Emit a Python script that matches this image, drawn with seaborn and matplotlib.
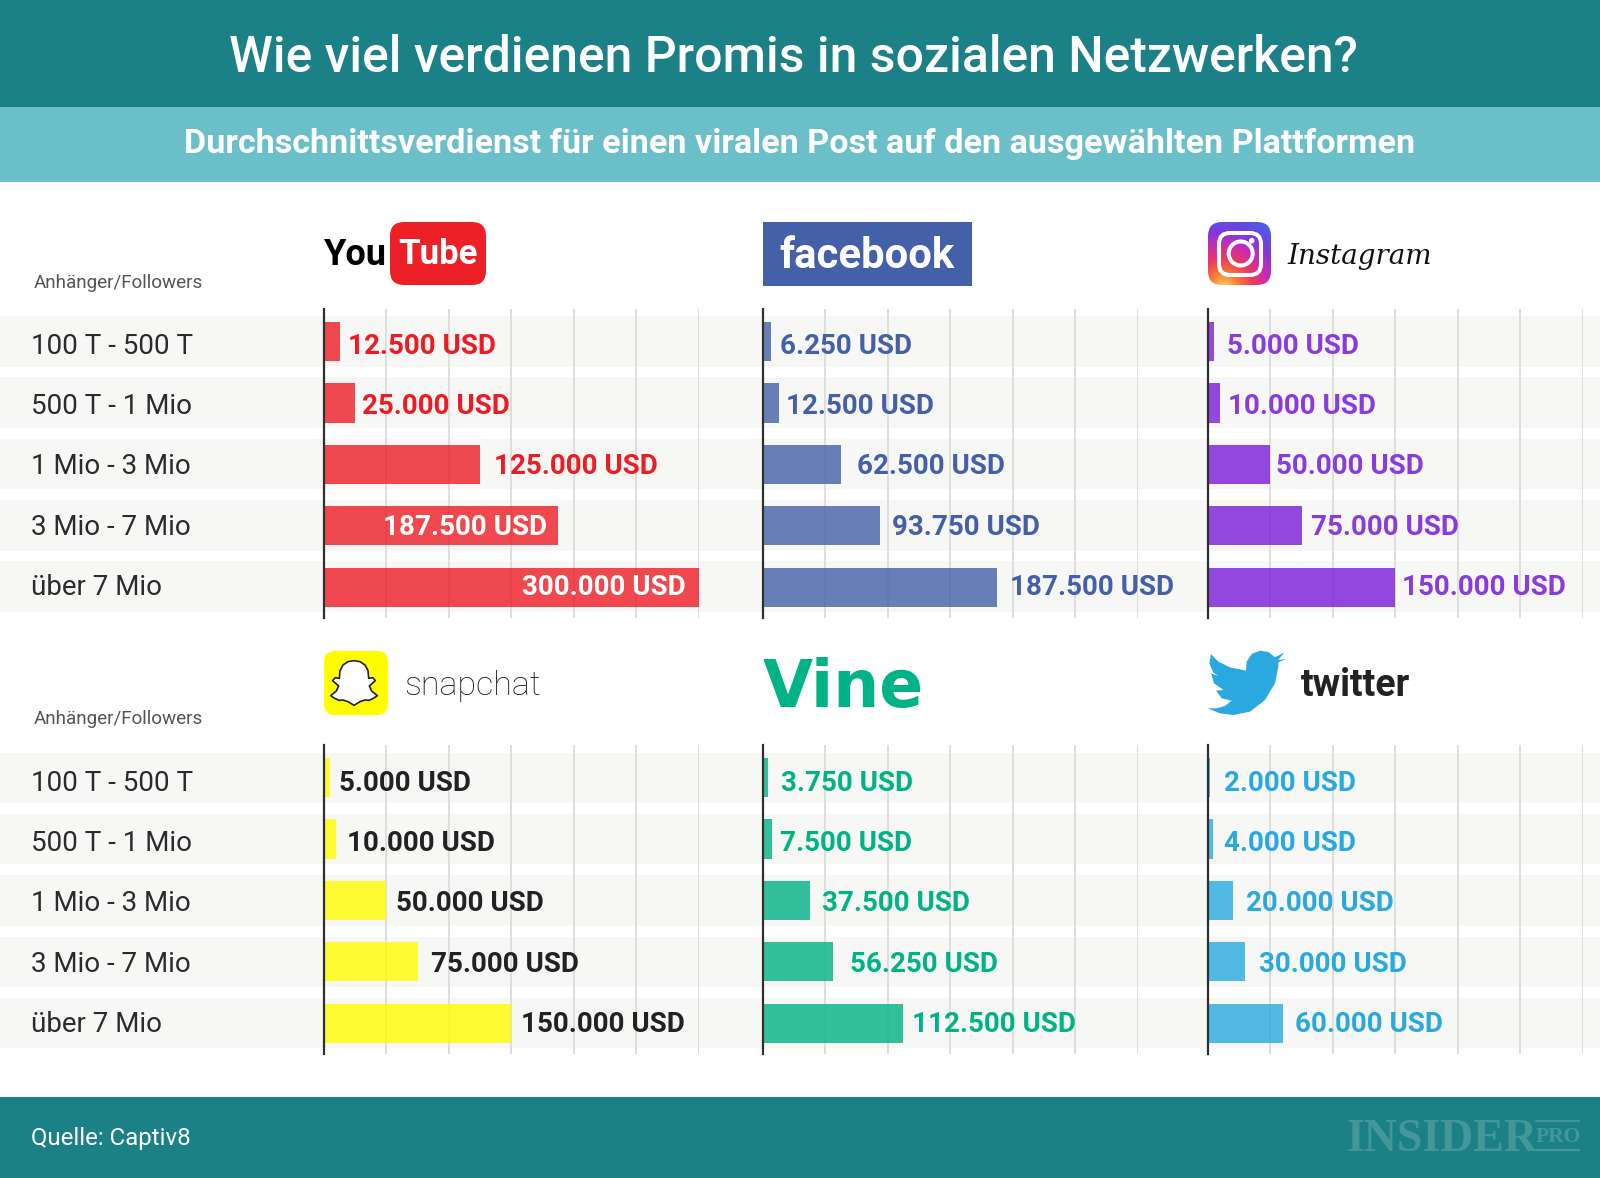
import numpy as np
import pandas as pd
import matplotlib
matplotlib.use("Agg")
import matplotlib.pyplot as plt
import seaborn as sns
from matplotlib.patches import Rectangle, FancyBboxPatch, Polygon, Circle

tiers = ["100 T - 500 T", "500 T - 1 Mio", "1 Mio - 3 Mio", "3 Mio - 7 Mio", "über 7 Mio"]

youtube = [12500, 25000, 125000, 187500, 300000]
facebook = [6250, 12500, 62500, 93750, 187500]
instagram = [5000, 10000, 50000, 75000, 150000]
snapchat = [5000, 10000, 50000, 75000, 150000]
vine = [3750, 7500, 37500, 56250, 112500]
twitter = [2000, 4000, 20000, 30000, 60000]

# label offset from bar end, in pixels (the original places them by hand)
gap_youtube = [8, 7, 14, -175, -176]
gap_facebook = [9, 7, 16, 12, 13]
gap_instagram = [13, 8, 6, 9, 7]
gap_snapchat = [9, 11, 10, 13, 10]
gap_vine = [13, 8, 12, 17, 9]
gap_twitter = [14, 11, 13, 14, 12]

W, H = 1600, 1178
TEAL = "#1C8087"
LIGHT_TEAL = "#6BBFC9"
BAND = "#F7F7F6"
GRID = "#DEDEDC"
LOGO_TEXT = "#45969B"

sns.set_theme(style="white")
plt.rcParams["font.family"] = ["Roboto", "DejaVu Sans"]


def px_axes(fig, x0, y0, x1, y1):
    # axes from pixel box, y counted from the top of the image
    return fig.add_axes([x0 / W, 1 - y1 / H, (x1 - x0) / W, (y1 - y0) / H])


def draw_panel(fig, x0, y0, values, gaps, bar_color, text_color, show_tiers=False, nudge=0):
    ax = px_axes(fig, x0, y0, x0 + 374.5, y0 + 309)
    ax.patch.set_visible(False)
    df = pd.DataFrame({"tier": tiers, "usd": values})
    sns.barplot(data=df, x="usd", y="tier", orient="h", color=bar_color, saturation=1,
                alpha=0.8, width=0.636, linewidth=0, ax=ax)
    ax.set_xlim(0, 300000)
    ax.set_ylim(4.5, -0.53)
    ax.set_xticks(np.arange(50000, 300001, 50000))
    ax.xaxis.grid(True, color=GRID, linewidth=1.4)
    ax.set_axisbelow(True)
    ax.set_xlabel("")
    ax.set_ylabel("")
    ax.tick_params(axis="both", length=0, labelbottom=False, labelleft=False)
    for s in ["top", "right", "bottom"]:
        ax.spines[s].set_visible(False)
    ax.spines["left"].set_color("#2F2F2F")
    ax.spines["left"].set_linewidth(1.6)
    ax.spines["left"].set_zorder(5)
    for i, (v, g) in enumerate(zip(values, gaps)):
        # text rows sit a bit tighter than the bars in the original
        dy = (1.25 * i - 2 - nudge) * 0.72
        col = "white" if g < 0 else text_color
        ax.annotate(f"{v:,}".replace(",", ".") + " USD", xy=(v, i), xytext=(g * 0.72, dy),
                    textcoords="offset points", va="center_baseline", ha="left",
                    fontsize=20, fontweight="bold", color=col, zorder=6)
        if show_tiers:
            ax.annotate(tiers[i], xy=(0, i), xycoords=ax.get_yaxis_transform(),
                        xytext=(-293 * 0.72, dy), textcoords="offset points",
                        va="center_baseline", ha="left", fontsize=20, color="#2B2B2B",
                        annotation_clip=False)
    return ax


fig = plt.figure(figsize=(W / 100, H / 100), dpi=100, facecolor="white")
bg = fig.add_axes([0, 0, 1, 1])
bg.set_xlim(0, W)
bg.set_ylim(H, 0)
bg.axis("off")

# header and footer
bg.add_patch(Rectangle((0, 0), W, 107, color=TEAL, lw=0))
bg.add_patch(Rectangle((0, 107), W, 75, color=LIGHT_TEAL, lw=0))
bg.add_patch(Rectangle((0, 1097), W, 81, color=TEAL, lw=0))
bg.text(793, 58, "Wie viel verdienen Promis in sozialen Netzwerken?", color="white",
        fontsize=35.9, ha="center", va="center", fontweight="medium")
bg.text(800, 144, "Durchschnittsverdienst für einen viralen Post auf den ausgewählten Plattformen",
        color="white", fontsize=24.6, ha="center", va="center", fontweight="bold")
bg.text(31, 1139, "Quelle: Captiv8", color="white", fontsize=17.3, va="center")
serif = ["Liberation Serif", "DejaVu Serif"]
bg.text(1347, 1140, "INSIDER", color=LOGO_TEXT, fontsize=33, fontweight="bold", va="center", family=serif)
bg.text(1558, 1137, "PRO", color=LOGO_TEXT, fontsize=15.5, fontweight="bold", va="center", ha="center", family=serif)
bg.plot([1536, 1579], [1121, 1121], color=LOGO_TEXT, lw=1.6)
bg.plot([1536, 1579], [1150, 1150], color=LOGO_TEXT, lw=1.6)

# row bands behind the panels
for top in [316, 752.5]:
    for i in range(5):
        bg.add_patch(Rectangle((0, top + i * 61.35), W, 50.5, color=BAND, lw=0))

for y in [283, 719]:
    bg.text(34, y, "Anhänger/Followers", fontsize=13.6, color="#555555", va="center")

# panels
draw_panel(fig, 324, 309, youtube, gap_youtube, "#ED1C24", "#ED1C24", show_tiers=True)
draw_panel(fig, 763, 309, facebook, gap_facebook, "#4460A8", "#4460A8")
draw_panel(fig, 1208, 309, instagram, gap_instagram, "#7A1BD8", "#8A3BDE")
draw_panel(fig, 324, 745, snapchat, gap_snapchat, "#FFFB00", "#222222", show_tiers=True, nudge=1)
draw_panel(fig, 763, 745, vine, gap_vine, "#00B386", "#00B386", nudge=1)
draw_panel(fig, 1208, 745, twitter, gap_twitter, "#29A9E0", "#29A9E0", nudge=1)

# youtube logo
bg.text(324, 255, "You", fontsize=26, fontweight="bold", color="black", va="center")
bg.add_patch(FancyBboxPatch((404, 236), 68, 35, boxstyle="round,pad=14,rounding_size=14", color="#ED2027", lw=0))
bg.text(438, 255, "Tube", fontsize=25, fontweight="bold", color="white", va="center", ha="center")

# facebook logo
bg.add_patch(Rectangle((763, 222), 209, 64, color="#4460A8", lw=0))
bg.text(867, 256, "facebook", fontsize=30.2, fontweight="bold", color="white", va="center", ha="center")

# instagram logo, gradient square clipped to a rounded box
xx, yy = np.meshgrid(np.linspace(0, 1, 80), np.linspace(0, 1, 80))
t = np.clip(np.hypot(xx - 0.25, yy - 1.05) / 1.15, 0, 1)
stops = np.array([[253, 215, 107], [247, 127, 50], [238, 58, 92], [201, 43, 176], [122, 59, 224], [79, 91, 224]]) / 255
grad = np.stack([np.interp(t, np.linspace(0, 1, 6), stops[:, k]) for k in range(3)], axis=-1)
im = bg.imshow(grad, extent=(1208, 1271, 285, 222), aspect="auto", zorder=2)
clip = FancyBboxPatch((1220, 234), 39, 39, boxstyle="round,pad=12,rounding_size=14",
                      transform=bg.transData, lw=0, fc="none")
bg.add_patch(clip)
im.set_clip_path(clip)
bg.set_xlim(0, W)
bg.set_ylim(H, 0)
bg.add_patch(FancyBboxPatch((1228, 242), 24, 24, boxstyle="round,pad=9,rounding_size=11",
                            fc="none", ec="white", lw=2.9, zorder=3))
bg.add_patch(Circle((1240.7, 253.5), 12, fc="none", ec="white", lw=2.9, zorder=3))
bg.add_patch(Circle((1251.7, 240.7), 2.8, fc="white", ec="none", zorder=3))
bg.text(1287, 256, "Instagram", fontsize=20, fontstyle="italic", color="#111111",
        va="center", family=["DejaVu Serif"])

# snapchat logo
bg.add_patch(FancyBboxPatch((335, 662), 42, 42, boxstyle="round,pad=11,rounding_size=11", color="#FFFC00", lw=0))
half_ghost = [(132, 62), (150, 65), (165, 75), (174, 92), (176, 115), (188, 113), (196, 122), (178, 138),
              (185, 153), (202, 167), (190, 175), (177, 181), (165, 180), (150, 185), (132, 196)]
right_side = [(310 + x / 3, 640 + y / 3) for x, y in half_ghost]
left_side = [(310 + (264 - x) / 3, 640 + y / 3) for x, y in half_ghost[::-1]]
bg.add_patch(Polygon(right_side + left_side, closed=True, fc="white", ec="#222222", lw=1.2, joinstyle="round"))
bg.text(404, 686, "snapchat", fontsize=24.5, color="#1A1A1A", va="center", fontweight="light")

# vine logo
bg.text(763, 689, "Vine", fontsize=46.6, fontweight="bold", color="#00B386", va="center", family=["DejaVu Sans"])

# twitter logo
bird = [(403, 67), (375, 82), (355, 66), (330, 62), (305, 72), (290, 95), (288, 122), (240, 112), (205, 95),
        (183, 72), (178, 100), (190, 128), (205, 138), (183, 130), (192, 160), (220, 180), (198, 182),
        (215, 205), (245, 212), (225, 228), (200, 235), (173, 235), (210, 250), (250, 255), (300, 245),
        (345, 210), (375, 160), (385, 110), (385, 97), (408, 87), (385, 90)]
bg.add_patch(Polygon([(1150 + x / 3, 630 + y / 3) for x, y in bird], closed=True, fc="#29A9E0", lw=0))
bg.text(1301, 686, "twitter", fontsize=27, fontweight="bold", color="#222222", va="center")

fig.savefig("out.png", dpi=100, facecolor="white")
